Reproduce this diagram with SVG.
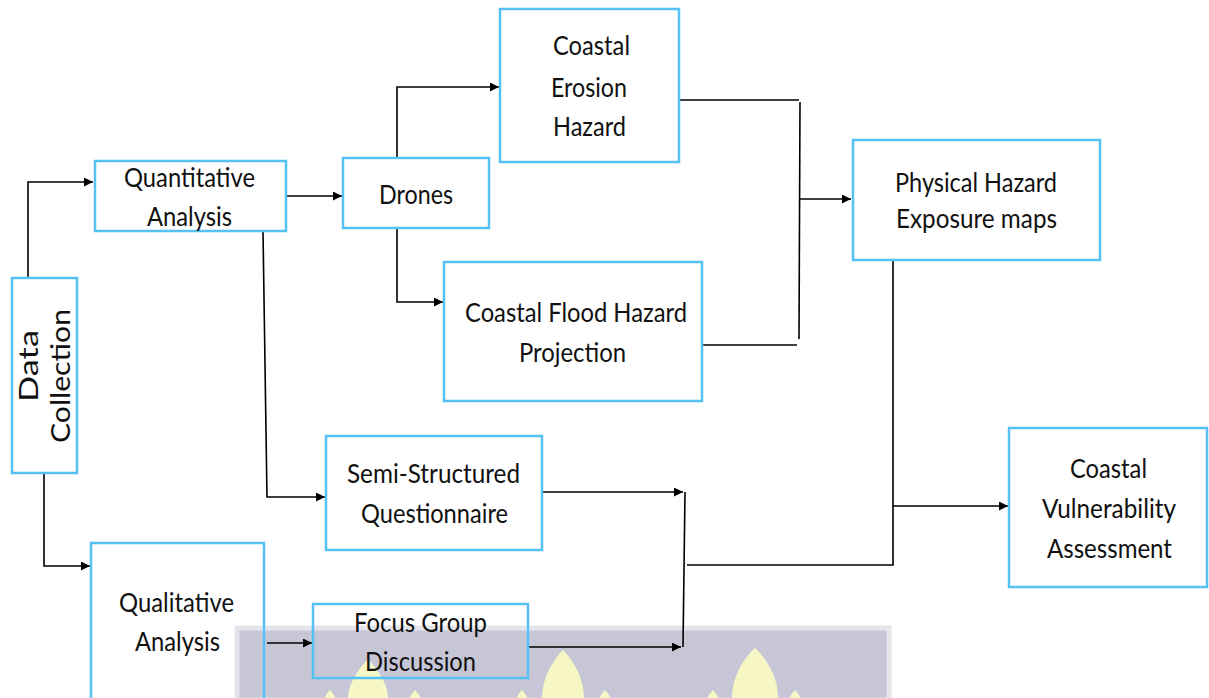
<svg xmlns="http://www.w3.org/2000/svg" width="1209" height="698" viewBox="0 0 1209 698">
<style>
.box{fill:none;stroke:#56c1f3;stroke-width:2.5}
.t{font-family:Lato,"Liberation Sans",sans-serif;font-size:27.5px;fill:#111;text-anchor:middle}
.c{fill:none;stroke:#000;stroke-width:1.6}
.flame{fill:#f7f7c6}
</style>
<defs>
<marker id="ah" viewBox="0 0 10 10" refX="10" refY="5" markerWidth="9" markerHeight="9" markerUnits="userSpaceOnUse" orient="auto">
<path d="M0,0 L10,5 L0,10 z" fill="#000"/>
</marker>
</defs>
<rect width="1209" height="698" fill="#fff"/>
<g id="watermark">
<rect x="237" y="628" width="652" height="72" fill="#c6c6d7" stroke="#e5e5ec" stroke-width="5"/>
<path class="flame" d="M368,659 C378,670 388,684 388,698 L348,698 C348,684 358,670 368,659 z"/>
<path class="flame" d="M563,650 C575,662 584,680 584,698 L542,698 C542,680 551,662 563,650 z"/>
<path class="flame" d="M755,648 C768,660 778,678 778,698 L732,698 C732,678 742,660 755,648 z"/>
<path class="flame" d="M330,690 C333,693 335,696 335,698 L325,698 C325,696 327,693 330,690 z"/>
<path class="flame" d="M415,690 C418,693 420,696 420,698 L410,698 C410,696 412,693 415,690 z"/>
<path class="flame" d="M522,690 C525,693 527,696 527,698 L517,698 C517,696 519,693 522,690 z"/>
<path class="flame" d="M605,690 C608,693 610,696 610,698 L600,698 C600,696 602,693 605,690 z"/>
<path class="flame" d="M713,690 C716,693 718,696 718,698 L708,698 C708,696 710,693 713,690 z"/>
<path class="flame" d="M795,690 C798,693 800,696 800,698 L790,698 C790,696 792,693 795,690 z"/>
</g>
<g id="connectors">
<path class="c" d="M28,277 V182 H93" marker-end="url(#ah)"/>
<path class="c" d="M44,473 V566 H90" marker-end="url(#ah)"/>
<path class="c" d="M285,196 H342" marker-end="url(#ah)"/>
<path class="c" d="M263,231 L267,497 H325" marker-end="url(#ah)"/>
<path class="c" d="M397,158 V87 H499" marker-end="url(#ah)"/>
<path class="c" d="M397,229 V302 H443" marker-end="url(#ah)"/>
<path class="c" d="M679,100 H799"/>
<path class="c" d="M800,102 L799,339"/>
<path class="c" d="M702,345 H797"/>
<path class="c" d="M800,199 H851" marker-end="url(#ah)"/>
<path class="c" d="M893,260 V565 H687"/>
<path class="c" d="M893,506 H1008" marker-end="url(#ah)"/>
<path class="c" d="M542,492 H683" marker-end="url(#ah)"/>
<path class="c" d="M685,492 L683,647"/>
<path class="c" d="M528,647 H681" marker-end="url(#ah)"/>
<path class="c" d="M267,643 H312" marker-end="url(#ah)"/>
</g>
<g id="data-collection">
<rect class="box" x="12" y="278" width="65" height="195"/>
<text class="t" transform="translate(38,366) rotate(-90)" textLength="72" lengthAdjust="spacingAndGlyphs">Data</text>
<text class="t" transform="translate(70,376) rotate(-90)" textLength="134" lengthAdjust="spacingAndGlyphs">Collection</text>
</g>
<g id="quantitative">
<rect class="box" x="95" y="161" width="191" height="70"/>
<text class="t" x="189.5" y="187" textLength="131" lengthAdjust="spacingAndGlyphs">Quantitative</text>
<text class="t" x="189.5" y="226" textLength="85" lengthAdjust="spacingAndGlyphs">Analysis</text>
</g>
<g id="drones">
<rect class="box" x="343" y="158" width="146" height="70"/>
<text class="t" x="416" y="204" textLength="74" lengthAdjust="spacingAndGlyphs">Drones</text>
</g>
<g id="erosion">
<rect class="box" x="500" y="9" width="179" height="153"/>
<text class="t" x="591.5" y="55" textLength="77" lengthAdjust="spacingAndGlyphs">Coastal</text>
<text class="t" x="589" y="97" textLength="76" lengthAdjust="spacingAndGlyphs">Erosion</text>
<text class="t" x="589.5" y="136" textLength="73" lengthAdjust="spacingAndGlyphs">Hazard</text>
</g>
<g id="flood">
<rect class="box" x="444" y="262" width="258" height="139"/>
<text class="t" x="576" y="322" textLength="222" lengthAdjust="spacingAndGlyphs">Coastal Flood Hazard</text>
<text class="t" x="572.5" y="362" textLength="107" lengthAdjust="spacingAndGlyphs">Projection</text>
</g>
<g id="physical">
<rect class="box" x="853" y="140" width="247" height="120"/>
<text class="t" x="976" y="192" textLength="162" lengthAdjust="spacingAndGlyphs">Physical Hazard</text>
<text class="t" x="976.5" y="228" textLength="161" lengthAdjust="spacingAndGlyphs">Exposure maps</text>
</g>
<g id="semi">
<rect class="box" x="326" y="436" width="216" height="114"/>
<text class="t" x="433.5" y="483" textLength="173" lengthAdjust="spacingAndGlyphs">Semi-Structured</text>
<text class="t" x="434.5" y="523" textLength="147" lengthAdjust="spacingAndGlyphs">Questionnaire</text>
</g>
<g id="vulnerability">
<rect class="box" x="1009" y="428" width="198" height="159"/>
<text class="t" x="1108.5" y="478" textLength="77" lengthAdjust="spacingAndGlyphs">Coastal</text>
<text class="t" x="1109" y="518" textLength="134" lengthAdjust="spacingAndGlyphs">Vulnerability</text>
<text class="t" x="1109.5" y="558" textLength="125" lengthAdjust="spacingAndGlyphs">Assessment</text>
</g>
<g id="qualitative">
<rect class="box" x="91" y="543" width="173" height="170"/>
<text class="t" x="176.5" y="612" textLength="115" lengthAdjust="spacingAndGlyphs">Qualitative</text>
<text class="t" x="177.5" y="651" textLength="85" lengthAdjust="spacingAndGlyphs">Analysis</text>
</g>
<g id="focus">
<rect class="box" x="313" y="604" width="215" height="74"/>
<text class="t" x="420.5" y="632" textLength="133" lengthAdjust="spacingAndGlyphs">Focus Group</text>
<text class="t" x="420.5" y="671" textLength="111" lengthAdjust="spacingAndGlyphs">Discussion</text>
</g>
</svg>
